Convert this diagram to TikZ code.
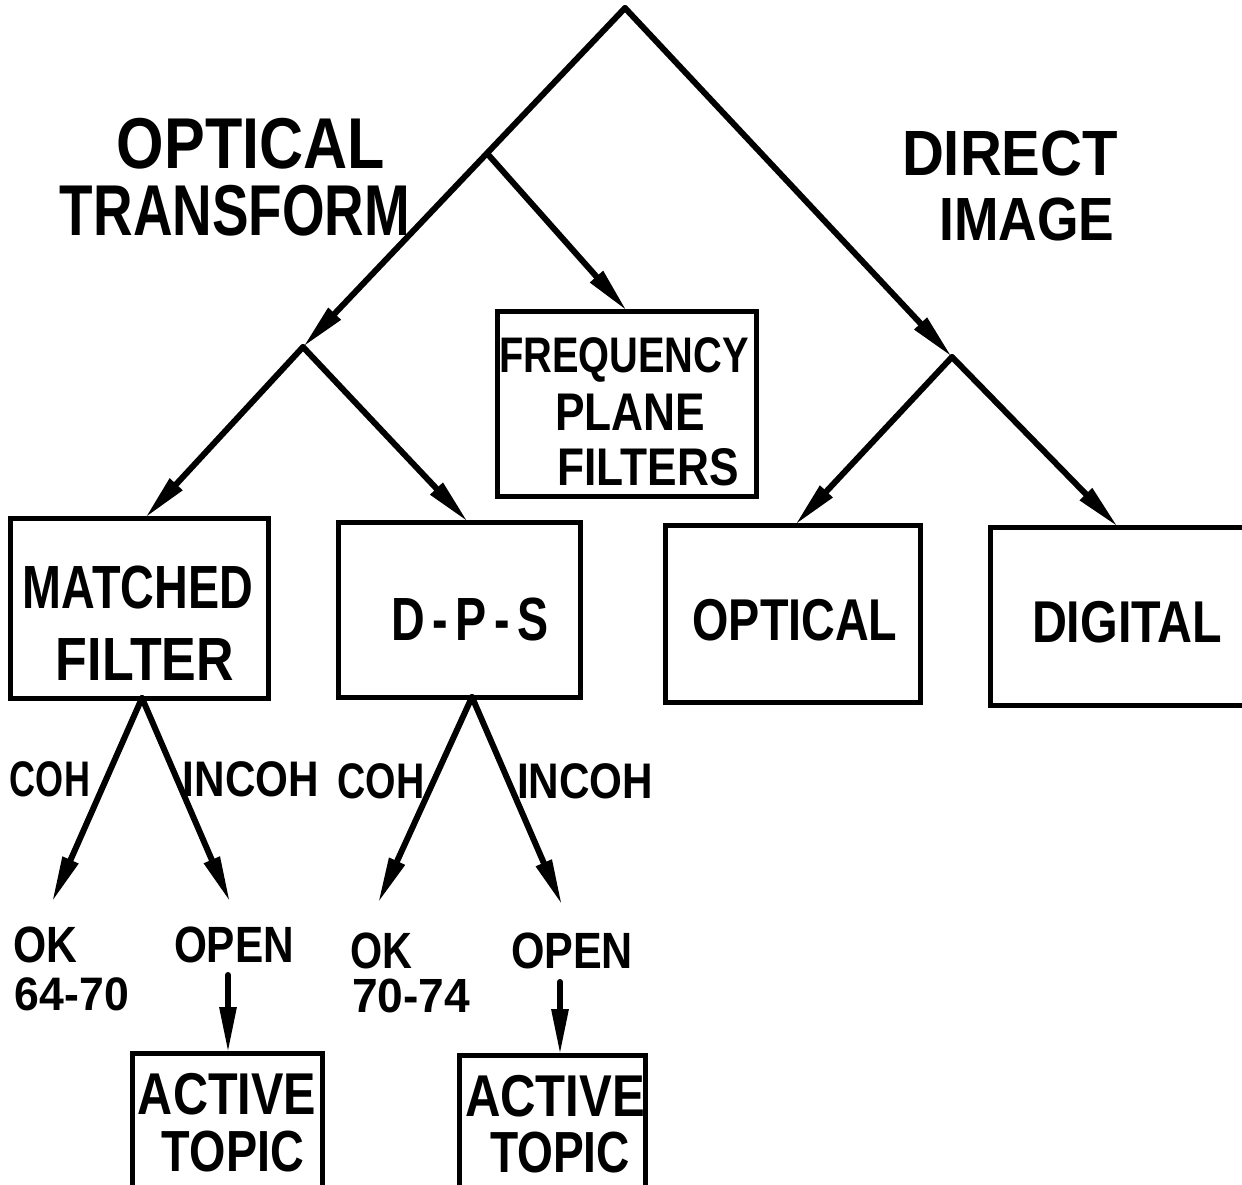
\documentclass[tikz,border=0pt]{standalone}
\usepackage{fontspec}
\usepackage{graphicx}
\newfontfamily\lett{Liberation Sans}
\usetikzlibrary{arrows.meta,calc}
\newcommand\ltx[3]{\fontsize{#2}{#2}\selectfont\resizebox{#1pt}{\height}{#3}}
\tikzset{
  lab/.style={anchor=base, inner sep=0pt, outer sep=0pt, font=\lett\bfseries},
  labw/.style={lab, anchor=base west},
  box/.style={draw, line width=5pt, inner sep=0pt, outer sep=0pt},
  conn/.style={line width=6pt, line cap=round},
  arr/.style={conn, -{Triangle[length=46pt,width=16pt]}}
}
\begin{document}
\begin{tikzpicture}[x=1pt,y=-1pt]
\useasboundingbox (0,0) rectangle (1242,1184);
\clip (0,0) rectangle (1242,1184);
\fill[white] (0,0) rectangle (1242,1184);

% junction coordinates
\coordinate (apex) at (625,8);
\coordinate (jL) at (303,347);
\coordinate (jR) at (952,357);
\coordinate (jF) at ($(apex)!0.4286!(jL)$);

% boxes
\node[box, minimum width=259pt, minimum height=185pt] (freq) at (626.5,403.5) {};
\node[box, minimum width=258pt, minimum height=180pt] (mf) at (139,608) {};
\node[box, minimum width=242pt, minimum height=175pt] (dps) at (459,609.5) {};
\node[box, minimum width=255pt, minimum height=177pt] (opt) at (792.5,613.5) {};
\node[box, minimum width=280pt, minimum height=178pt] (dig) at (1130,616) {};
\node[box, minimum width=190pt, minimum height=157pt] (act1) at (227,1131.5) {};
\node[box, minimum width=186pt, minimum height=155pt] (act2) at (552,1132.5) {};

% top labels
\node[lab] (tOpt) at (251,168) {\ltx{268}{72}{OPTICAL}};
\node[lab] (tTra) at (235,235) {\ltx{350}{72}{TRANSFORM}};
\node[lab] (tDir) at (1010,175) {\ltx{216}{64}{DIRECT}};
\node[lab] (tImg) at (1027,240) {\ltx{175}{61}{IMAGE}};

% box texts
\node[lab] (tFr1) at (624,372) {\ltx{250}{50}{FREQUENCY}};
\node[lab] (tFr2) at (630,430) {\ltx{150}{53}{PLANE}};
\node[lab] (tFr3) at (648,485) {\ltx{181}{53}{FILTERS}};
\node[lab] (tMf1) at (138,608) {\ltx{230}{61}{MATCHED}};
\node[lab] (tMf2) at (145,680) {\ltx{178}{61}{FILTER}};
\node[lab] (tDps) at (470,640) {\ltx{158}{61}{D\,-\,P\,-\,S}};
\node[lab] (tOpb) at (795,640) {\ltx{205}{59}{OPTICAL}};
\node[lab] (tDig) at (1127,642) {\ltx{190}{59}{DIGITAL}};

% branch labels
\node[lab] (coh1) at (50,796) {\ltx{80}{50}{COH}};
\node[lab] (inc1) at (251,796) {\ltx{136}{50}{INCOH}};
\node[lab] (coh2) at (381,798) {\ltx{87}{50}{COH}};
\node[lab] (inc2) at (585,798) {\ltx{136}{50}{INCOH}};

% outcomes
\node[labw] (ok1) at (13,962) {\ltx{64}{51}{OK}};
\node[labw] (yr1) at (15,1010) {\ltx{114}{47}{64-70}};
\node[lab] (op1) at (234,962) {\ltx{120}{51}{OPEN}};
\node[labw] (ok2) at (350,968) {\ltx{62}{51}{OK}};
\node[labw] (yr2) at (352,1012) {\ltx{118}{48}{70-74}};
\node[lab] (op2) at (572,968) {\ltx{122}{51}{OPEN}};

\node[lab] (ta1) at (227,1114) {\ltx{178}{59}{ACTIVE}};
\node[lab] (tt1) at (233,1171) {\ltx{142}{58}{TOPIC}};
\node[lab] (ta2) at (555,1116) {\ltx{180}{59}{ACTIVE}};
\node[lab] (tt2) at (560,1172) {\ltx{140}{58}{TOPIC}};

% end coordinates
\coordinate (e1) at (52,902);
\coordinate (e2) at (230,902);
\coordinate (e3) at (378,903);
\coordinate (e4) at (562,905);
\coordinate (s5) at (228,975);
\coordinate (s6) at (560,982);

% connectors
\draw[arr] (apex) -- (jL);
\draw[arr] (apex) -- (jR);
\draw[arr] (jF) -- ([xshift=130pt]freq.north west);
\draw[arr] (jL) -- ([xshift=135pt]mf.north west);
\draw[arr] (jL) -- ([xshift=130pt]dps.north west);
\draw[arr] (jR) -- ([xshift=130pt]opt.north west);
\draw[arr] (jR) -- ([xshift=128pt]dig.north west);
\draw[arr] ([xshift=132pt]mf.south west) -- (e1);
\draw[arr] ([xshift=132pt]mf.south west) -- (e2);
\draw[arr] ([xshift=134pt]dps.south west) -- (e3);
\draw[arr] ([xshift=134pt]dps.south west) -- (e4);
\draw[arr] (s5) -- (s5 |- act1.north);
\draw[arr] (s6) -- (s6 |- act2.north);
\end{tikzpicture}
\end{document}
